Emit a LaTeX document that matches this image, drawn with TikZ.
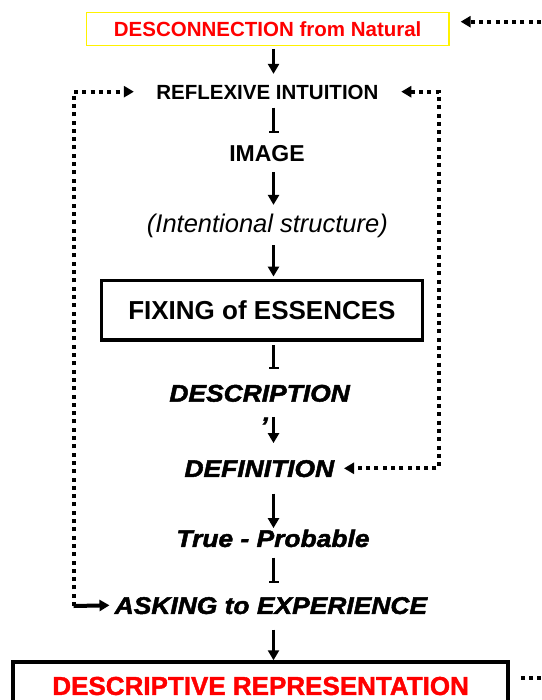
\documentclass[tikz,border=0pt]{standalone}
\usepackage{fontspec}
\setmainfont{Liberation Sans}[BoldItalicFeatures={FakeBold=2, FakeStretch=1.1}, BoldFeatures={FakeBold=1.5}]
\newfontfamily\plainbold{Liberation Sans}
\usetikzlibrary{positioning}
\usetikzlibrary{arrows.meta}
\tikzset{
    mynode/.style = {inner sep=0pt, text depth=0pt, align=center, text=black},
    mynodebi/.style = {mynode, text height=17.2pt, font=\bfseries\itshape\fontsize{24}{28}\selectfont},
    mynodey/.style = {rectangle, draw=yellow, line width=1.3pt, align=center, text=red, font=\plainbold\bfseries\fontsize{20.5}{24}\selectfont},
    mynodek/.style = {rectangle, draw=black, line width=3.5pt, align=center, text=black, font=\plainbold\bfseries\fontsize{26}{30}\selectfont},
    mynoder/.style = {rectangle, draw=black, line width=3.5pt, align=center, text=red, font=\bfseries\fontsize{26}{30}\selectfont},
    edgen/.style = {-{Triangle[width=11pt,length=10pt]}, line width=3.5pt, black},
    edgebar/.style = {-{Bar[width=10pt,line width=2pt]}, line width=3.5pt, black}, % cut head
    edged/.style = {line width=4pt, black, dash pattern=on 4pt off 4.3pt}, % feedback
    edgeda/.style = {edged, -{Triangle[width=11pt,length=10pt]}}
}
\begin{document}
\begin{tikzpicture}[x=1pt, y=-1pt]
  \useasboundingbox (0,0) rectangle (541,700);
  \clip (0,0) rectangle (541,700);
  % chain
  \node[mynodey, minimum width=362.5pt, minimum height=33pt] (discon) at (267.7,28.8) {DESCONNECTION from Natural};
  \node[mynode, text height=14.7pt, font=\plainbold\bfseries\fontsize{20.5}{24}\selectfont] (reflex) at (267.4,92) {REFLEXIVE INTUITION};
  \node[mynode, text height=16.5pt, font=\plainbold\bfseries\fontsize{23}{28}\selectfont] (image) at (267,153.3) {IMAGE};
  \node[mynode, text height=18.3pt, font=\itshape\fontsize{25.5}{29}\selectfont] (intent) at (267.4,223) {(Intentional structure)};
  \node[mynodek, minimum width=320.9pt, minimum height=59.3pt] (fixing) at (261.9,310.35) {FIXING of ESSENCES};
  \node[mynodebi] (descr) at (259.6,393) {DESCRIPTION};
  \node[mynodebi] (tick) at (264,425.6) {'};
  \node[mynodebi] (defin) at (259.3,468.3) {DEFINITION};
  \node[mynodebi] (truep) at (273,538.3) {True - Probable};
  \node[mynodebi] (asking) at (270.9,605.3) {ASKING to EXPERIENCE};
  \node[mynoder, minimum width=494.8pt, minimum height=48pt] (repr) at (260.6,686) {DESCRIPTIVE REPRESENTATION};
  \coordinate (spine) at (273.5,0);
  \draw[edgen, shorten <=3pt, shorten >=10.6pt] (discon.south -| spine) -- (reflex.north -| spine);
  \draw[edgebar, shorten <=8pt, shorten >=11.7pt] (reflex.south -| spine) -- (image.north -| spine);
  \draw[edgen, shorten <=10.7pt, shorten >=8.8pt] (image.south -| spine) -- (intent.north -| spine);
  \draw[edgen, shorten <=12.8pt, shorten >=2.4pt] (intent.south -| spine) -- (fixing.north -| spine);
  \draw[edgebar, shorten <=3.3pt, shorten >=15.1pt] (fixing.south -| spine) -- (descr.north -| spine);
  \draw[edgen, shorten <=15.1pt, shorten >=16.4pt] (descr.south -| spine) -- (defin.north -| spine);
  \draw[edgen, shorten <=16.4pt, shorten >=1.4pt] (defin.south -| spine) -- (truep.north -| spine);
  \draw[edgebar, shorten <=10.4pt, shorten >=13.4pt] (truep.south -| spine) -- (asking.north -| spine);
  \draw[edgen, shorten <=15.4pt] (asking.south -| spine) -- (repr.north -| spine);
  % loops
  \coordinate (lcorner) at (73.7,606);
  \coordinate (rcorner) at (438.6,0);
  \coordinate (redge) at (541,21.7);
  \coordinate (bedge) at (541,678);
  \draw[edgeda] (lcorner) |- ([xshift=-22.3pt,yshift=0.3pt]reflex.west);
  \draw[edgen, line width=4pt] (lcorner) -- ([xshift=-5pt]asking.west);
  \draw[edged, {Triangle[width=11pt,length=10pt]}-{Triangle[width=11pt,length=10pt]}] ([xshift=22.6pt,yshift=0.3pt]reflex.east) -| (rcorner |- defin.east) -- ([xshift=9.7pt]defin.east);
  \draw[edgeda] (redge) -- ([xshift=11pt]discon.east |- redge);
  \draw[edged] ([xshift=11pt]repr.east |- bedge) -- (bedge);
\end{tikzpicture}
\end{document}
